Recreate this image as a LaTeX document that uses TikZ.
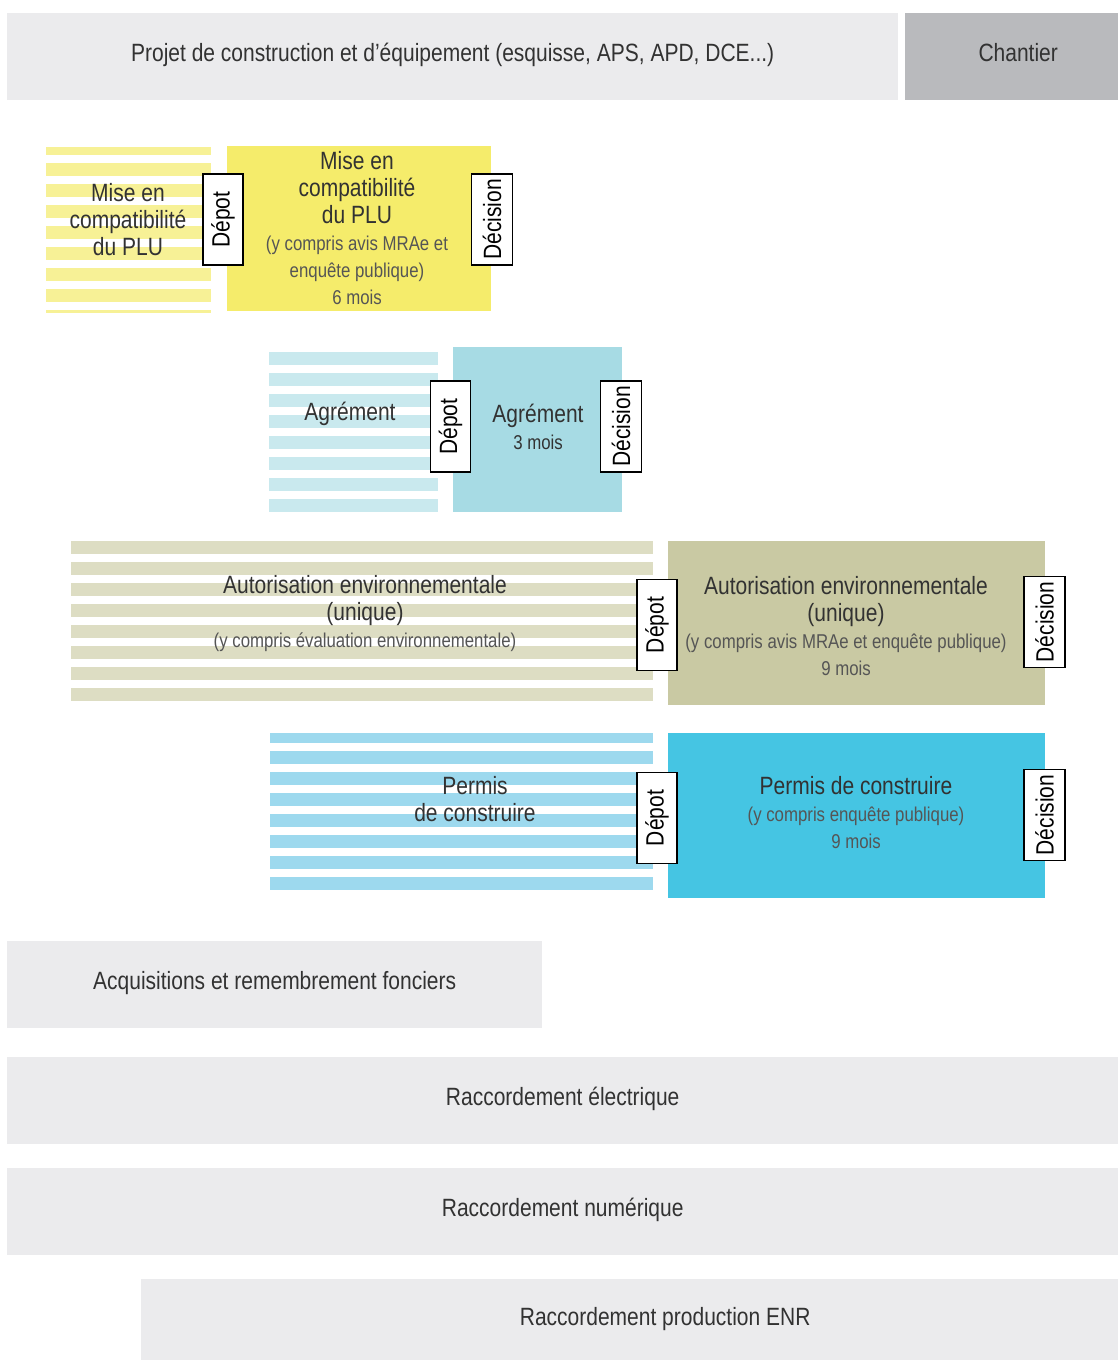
\documentclass[tikz,border=0pt]{standalone}
\usepackage{fontspec}
\setmainfont{Liberation Sans}[FakeStretch=0.84]
\usepackage{tikz}

\definecolor{bargrey}{RGB}{235,235,237}
\definecolor{sitegrey}{RGB}{185,186,189}
\definecolor{txtgrey}{RGB}{50,50,50}
\definecolor{lowgrey}{RGB}{85,85,85}
\definecolor{pluyellow}{RGB}{245,236,107}
\definecolor{plustripe}{RGB}{247,241,150}
\definecolor{agrblue}{RGB}{167,219,228}
\definecolor{agrstripe}{RGB}{201,233,238}
\definecolor{autolive}{RGB}{201,201,163}
\definecolor{autstripe}{RGB}{221,221,195}
\definecolor{pccyan}{RGB}{69,197,227}
\definecolor{pcstripe}{RGB}{157,217,238}

\newcommand{\bigtxt}{\fontsize{25}{27}\selectfont}
\newcommand{\smalltxt}{\fontsize{20}{27}\selectfont\color{lowgrey}}

% striped band: colour, x1, y1, x2, y2, first stripe
\newcommand{\stripes}[6]{%
  \begin{scope}
    \clip (#2,#3) rectangle (#4,#5);
    \foreach \k in {0,...,8}
      \fill[#1] (#2,{#6+21*\k}) rectangle (#4,{#6+21*\k+13});
  \end{scope}}

\tikzset{
  bar/.style={fill=bargrey, anchor=north west, inner sep=0pt, font=\bigtxt, text=txtgrey,
    text height=20pt, text depth=10pt},
  box/.style={anchor=north west, inner sep=0pt},
  label/.style={align=center, inner sep=0pt, font=\bigtxt, text=txtgrey},
  tag/.style={draw=black, line width=1.2pt, fill=white, rotate=90, minimum width=91,
    minimum height=40, inner sep=0pt, font=\bigtxt, text=black}
}

\begin{document}
\begin{tikzpicture}[x=1pt, y=-1pt]
    \clip (0,0) rectangle (1118,1360);

    % phases of the project
    \node[bar, minimum width=891, minimum height=87] (projet) at (7,13)
        {Projet de construction et d'équipement (esquisse, APS, APD, DCE...)};
    \node[bar, fill=sitegrey, minimum width=226, minimum height=87] (chantier) at (905,13) {Chantier};

    % mise en compatibilite du PLU
    \stripes{plustripe}{46}{147}{211}{312}{142}
    \node[label] (pluprep) at (128,220) {Mise en\\compatibilité\\du PLU};
    \node[box, fill=pluyellow, minimum width=264, minimum height=165] (plu) at (227,146) {};
    \node[label] (plutxt) at (357,228) {Mise en\\compatibilité\\du PLU\\
        {\smalltxt (y compris avis MRAe et}\\{\smalltxt enquête publique)}\\{\smalltxt 6 mois}};
    \node[tag] (depotplu) at (223,219.5) {Dépot};
    \node[tag, minimum height=41] (decisionplu) at (492,219.5) {Décision};

    % agrement
    \stripes{agrstripe}{269}{352}{438}{512}{352}
    \node[label] (agrprep) at (350,414) {Agrément};
    \node[box, fill=agrblue, minimum width=169, minimum height=165] (agr) at (453,347) {};
    \node[label] (agrtxt) at (538,427) {Agrément\\{\smalltxt\color{txtgrey}3 mois}};
    \node[tag] (depotagr) at (450.5,426.5) {Dépot};
    \node[tag, minimum height=41] (decisionagr) at (621,426.5) {Décision};

    % autorisation environnementale
    \stripes{autstripe}{71}{541}{653}{701}{541}
    \node[label] (autprep) at (365,614) {Autorisation environnementale\\(unique)\\
        {\smalltxt (y compris évaluation environnementale)}};
    \node[box, fill=autolive, minimum width=377, minimum height=164] (aut) at (668,541) {};
    \node[label] (auttxt) at (846,626) {Autorisation environnementale\\(unique)\\
        {\smalltxt (y compris avis MRAe et enquête publique)}\\{\smalltxt 9 mois}};
    \node[tag] (depotaut) at (657,625) {Dépot};
    \node[tag, minimum height=41] (decisionaut) at (1044.5,622) {Décision};

    % permis de construire
    \stripes{pcstripe}{270}{733}{653}{891}{730}
    \node[label] (pcprep) at (475,799) {Permis\\de construire};
    \node[box, fill=pccyan, minimum width=377, minimum height=165] (pc) at (668,733) {};
    \node[label] (pctxt) at (856,813) {Permis de construire\\
        {\smalltxt (y compris enquête publique)}\\{\smalltxt 9 mois}};
    \node[tag] (depotpc) at (657,818) {Dépot};
    \node[tag, minimum height=41] (decisionpc) at (1044.5,815) {Décision};

    % foncier et raccordements
    \node[bar, minimum width=535, minimum height=87] (foncier) at (7,941)
        {Acquisitions et remembrement fonciers};
    \node[bar, minimum width=1111, minimum height=87] (elec) at (7,1057) {Raccordement électrique};
    \node[bar, minimum width=1111, minimum height=87] (num) at (7,1168) {Raccordement numérique};
    \node[bar, minimum width=1048, minimum height=82] (enr) at (141,1279) {Raccordement production ENR};
\end{tikzpicture}
\end{document}
